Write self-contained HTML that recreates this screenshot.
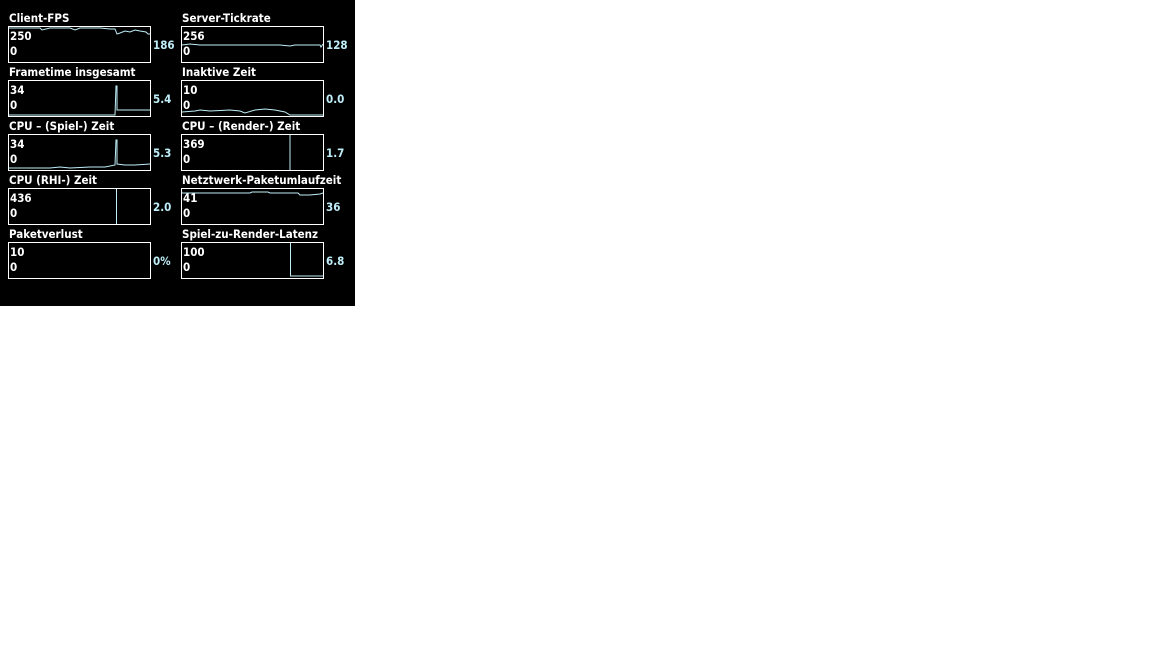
<!DOCTYPE html>
<html><head><style>
html,body{margin:0;padding:0;background:#fff;width:1152px;height:648px;overflow:hidden}
svg{display:block}
text{font-family:"DejaVu Sans Condensed","Liberation Sans",sans-serif;font-weight:bold;font-size:11.5px}
.t{fill:#fff}
.v{fill:#bfeef8}
rect.b{fill:none;stroke:#fff;stroke-width:1}
polyline{fill:none;stroke:#bfeef8;stroke-width:1}
</style></head><body>
<svg width="1152" height="648" xmlns="http://www.w3.org/2000/svg">
<rect x="0" y="0" width="355" height="306" fill="#000"/>

<!-- Row 0 -->
<text class="t" x="9" y="22">Client-FPS</text>
<rect class="b" x="8.5" y="26.5" width="142" height="36"/>
<polyline points="9,28 40,28 42,30 50,28 70,28 75,30 80,28 100,28 110,29 115,29 117,34 120,33 125,31 130,32 135,30 140,31 146,32 148,34 150,34"/>
<text class="t" x="10" y="40">250</text><text class="t" x="10" y="55">0</text>
<text class="v" x="153" y="49">186</text>

<text class="t" x="182" y="22">Server-Tickrate</text>
<rect class="b" x="181.5" y="26.5" width="142" height="36"/>
<polyline points="182,45 190,44 200,45 240,45 280,45 290,46 295,45 320,45 321,47 323,44"/>
<text class="t" x="183" y="40">256</text><text class="t" x="183" y="55">0</text>
<text class="v" x="326" y="49">128</text>

<!-- Row 1 -->
<text class="t" x="9" y="76">Frametime insgesamt</text>
<rect class="b" x="8.5" y="80.5" width="142" height="36"/>
<polyline points="9,115 100,115 115,115 116,86 117,86 117,110 150,110"/>
<text class="t" x="10" y="94">34</text><text class="t" x="10" y="109">0</text>
<text class="v" x="153" y="103">5.4</text>

<text class="t" x="182" y="76">Inaktive Zeit</text>
<rect class="b" x="181.5" y="80.5" width="142" height="36"/>
<polyline points="182,112 195,111 200,110 210,111 230,110 240,111 245,113 255,110 265,109 275,110 280,111 285,112 290,115 323,115"/>
<text class="t" x="183" y="94">10</text><text class="t" x="183" y="109">0</text>
<text class="v" x="326" y="103">0.0</text>

<!-- Row 2 -->
<text class="t" x="9" y="130">CPU – (Spiel-) Zeit</text>
<rect class="b" x="8.5" y="134.5" width="142" height="36"/>
<polyline points="9,168 50,168 60,167 70,168 90,167 105,167 115,165 116,140 117,140 117,164 125,165 135,165 150,164"/>
<text class="t" x="10" y="148">34</text><text class="t" x="10" y="163">0</text>
<text class="v" x="153" y="157">5.3</text>

<text class="t" x="182" y="130">CPU – (Render-) Zeit</text>
<rect class="b" x="181.5" y="134.5" width="142" height="36"/>
<polyline points="290,135 290,170"/>
<text class="t" x="183" y="148">369</text><text class="t" x="183" y="163">0</text>
<text class="v" x="326" y="157">1.7</text>

<!-- Row 3 -->
<text class="t" x="9" y="184">CPU (RHI-) Zeit</text>
<rect class="b" x="8.5" y="188.5" width="142" height="36"/>
<polyline points="116.5,189 116.5,224"/>
<text class="t" x="10" y="202">436</text><text class="t" x="10" y="217">0</text>
<text class="v" x="153" y="211">2.0</text>

<text class="t" x="182" y="184">Netztwerk-Paketumlaufzeit</text>
<rect class="b" x="181.5" y="188.5" width="142" height="36"/>
<polyline points="182,193 250,193 252,192 268,192 270,193 298,193 300,195 310,195 320,194 323,193"/>
<text class="t" x="183" y="202">41</text><text class="t" x="183" y="217">0</text>
<text class="v" x="326" y="211">36</text>

<!-- Row 4 -->
<text class="t" x="9" y="238">Paketverlust</text>
<rect class="b" x="8.5" y="242.5" width="142" height="36"/>
<text class="t" x="10" y="256">10</text><text class="t" x="10" y="271">0</text>
<text class="v" x="153" y="265">0%</text>

<text class="t" x="182" y="238">Spiel-zu-Render-Latenz</text>
<rect class="b" x="181.5" y="242.5" width="142" height="36"/>
<polyline points="290.5,243 290.5,276 323,276"/>
<text class="t" x="183" y="256">100</text><text class="t" x="183" y="271">0</text>
<text class="v" x="326" y="265">6.8</text>
</svg>
</body></html>
